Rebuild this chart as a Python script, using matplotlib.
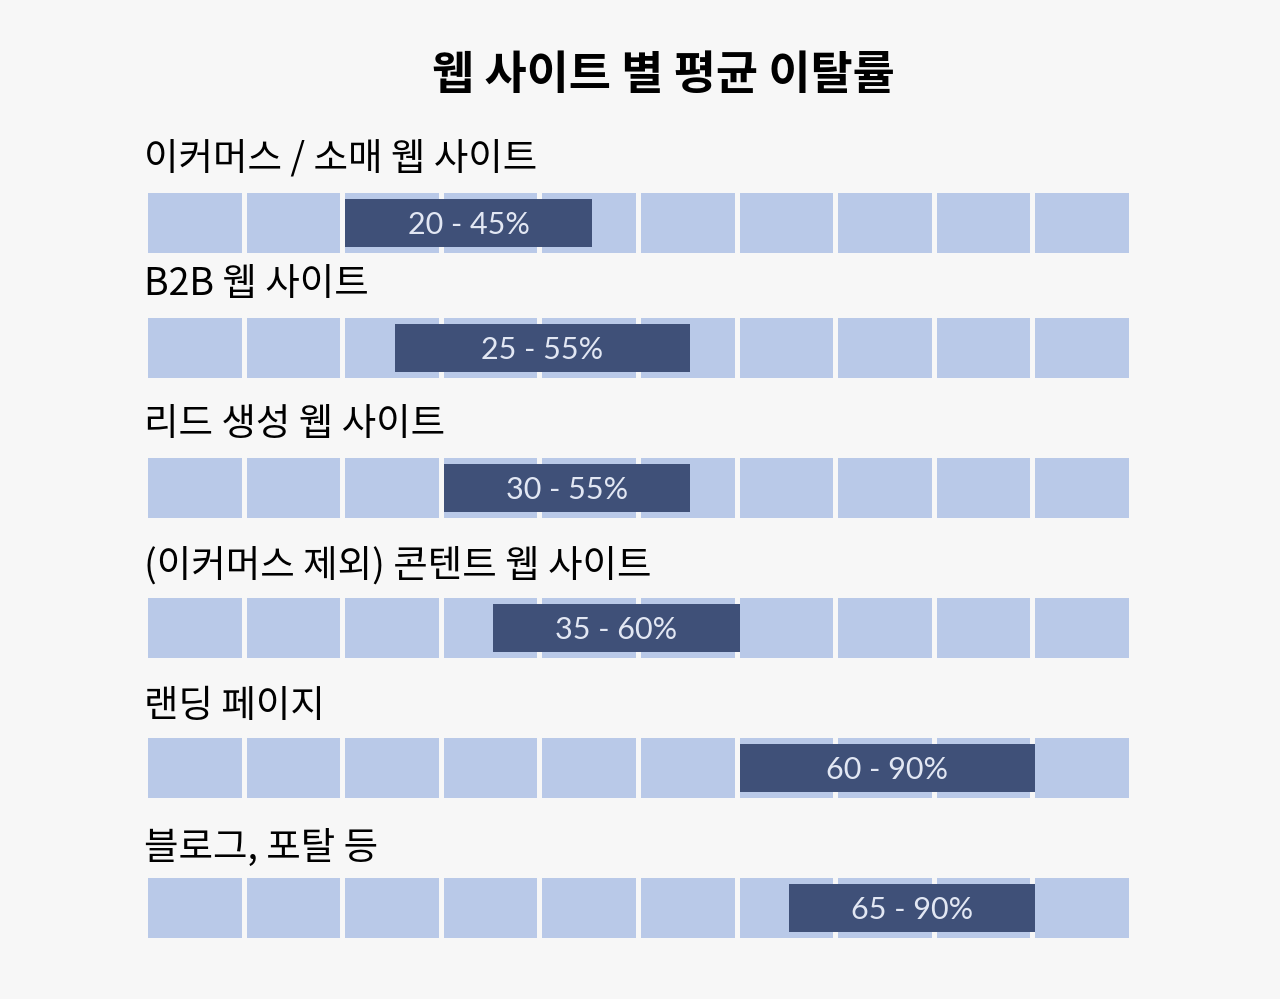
import matplotlib
matplotlib.use("Agg")
import matplotlib.pyplot as plt

plt.rcParams['font.family'] = ['Noto Sans CJK KR', 'DejaVu Sans']

title = "웹 사이트 별 평균 이탈률"
categories = ["이커머스 / 소매 웹 사이트", "B2B 웹 사이트", "리드 생성 웹 사이트",
              "(이커머스 제외) 콘텐트 웹 사이트", "랜딩 페이지", "블로그, 포탈 등"]
low = [20, 25, 30, 35, 60, 65]
high = [45, 55, 55, 60, 90, 90]

# layout (pixels from top of the figure)
row_y = [223, 348, 488, 628, 768, 908]
label_y = [159, 284, 425, 566, 707, 848]

BG = "#f7f7f7"
LIGHT = "#b9c9e8"
DARK = "#3f5078"

fig = plt.figure(figsize=(12.8, 9.99), dpi=100, facecolor=BG)
ax = fig.add_axes([148 / 1280, 0, 986 / 1280, 1])
ax.set_facecolor(BG)
ax.set_xlim(0, 100)
ax.set_ylim(999, 0)
ax.axis("off")

for i, cat in enumerate(categories):
    y = row_y[i]
    # 10 background cells, 10% each
    ax.barh([y] * 10, [9.5] * 10, left=list(range(0, 100, 10)), height=60,
            color=LIGHT, linewidth=0)
    ax.barh(y, high[i] - low[i], left=low[i], height=48, color=DARK, linewidth=0)
    ax.text((low[i] + high[i]) / 2, y + 2, f"{low[i]} - {high[i]}%", ha="center",
            va="center", color="#e2e7f3", fontsize=22, family="Lato")
    ax.text(-0.4, label_y[i], cat, ha="left", va="center", fontsize=27,
            color="black")

fig.text(663 / 1280, 1 - 76 / 999, title, ha="center", va="center",
         fontsize=33, fontweight="bold", color="black")

plt.savefig("out.png", dpi=100, facecolor=BG)
